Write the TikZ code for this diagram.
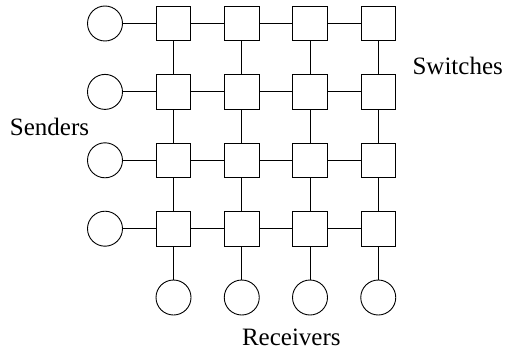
\documentclass[tikz,border=0pt]{standalone}
\usepackage{fontspec}
\setmainfont{Liberation Serif}
\begin{document}
\begin{tikzpicture}[x=1pt,y=-1pt,
  sw/.style={draw, line width=0.9pt, rectangle, minimum size=34.5pt, inner sep=0pt},
  host/.style={draw, line width=0.9pt, circle, minimum size=35pt, inner sep=0pt},
  link/.style={line width=0.9pt},
  lbl/.style={anchor=base, inner sep=0pt, font=\fontsize{25}{30}\selectfont}]
\useasboundingbox (0,0) rectangle (505,350);
\foreach \c in {1,...,4} {
  \foreach \r in {1,...,4} {
    \node[sw] (s\r\c) at ({173.5+68.25*(\c-1)},{23.5+68.4*(\r-1)}) {};
  }
}
\foreach \r in {1,...,4} {
  \node[host] (in\r) at (105,{23.5+68.4*(\r-1)}) {};
  \draw[link] (in\r) -- (s\r1);
}
\foreach \c in {1,...,4} {
  \node[host] (out\c) at ({173.5+68.25*(\c-1)},297.5) {};
  \draw[link] (s4\c) -- (out\c);
}
\foreach \r in {1,...,4} {
  \draw[link] (s\r1) -- (s\r2);
  \draw[link] (s\r2) -- (s\r3);
  \draw[link] (s\r3) -- (s\r4);
}
\foreach \c in {1,...,4} {
  \draw[link] (s1\c) -- (s2\c);
  \draw[link] (s2\c) -- (s3\c);
  \draw[link] (s3\c) -- (s4\c);
}
\node[lbl] (senders) at (49.5,135) {Senders};
\node[lbl] (switches) at (457.7,75) {Switches};
\node[lbl] (receivers) at (291.3,345) {Receivers};
\end{tikzpicture}
\end{document}
